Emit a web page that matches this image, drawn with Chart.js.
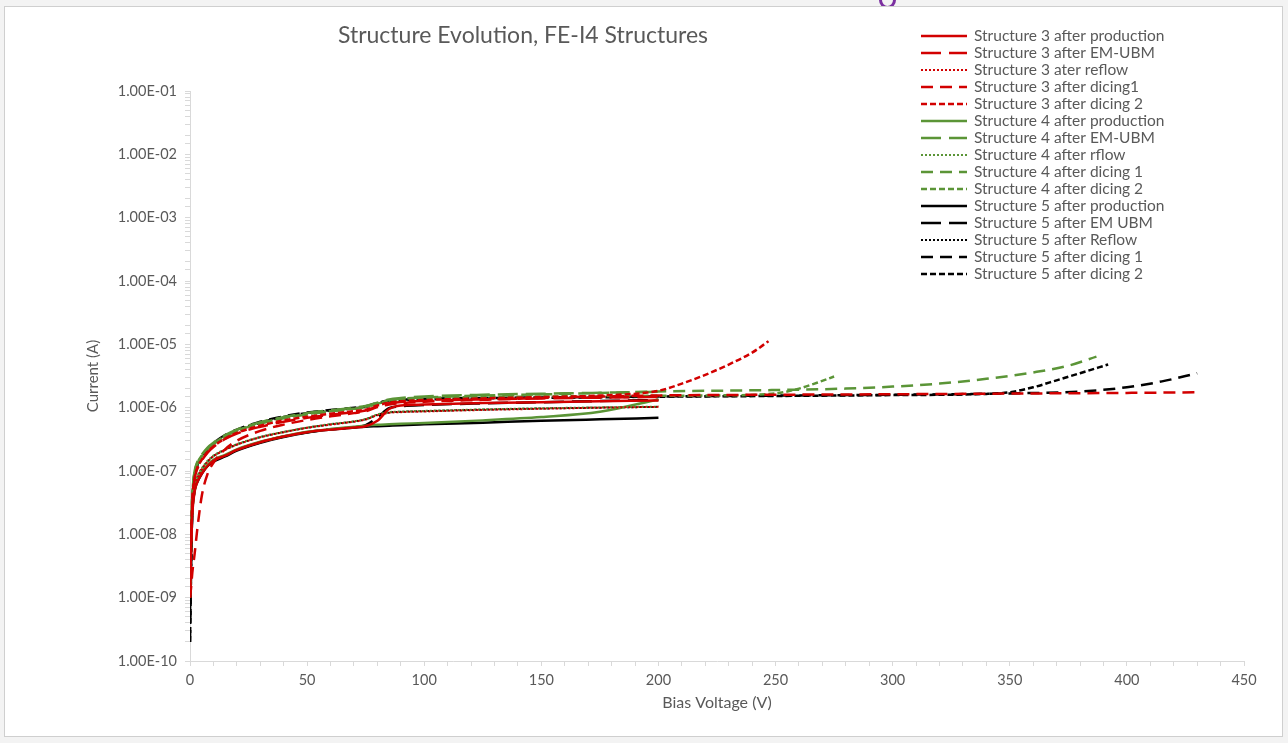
<!DOCTYPE html>
<html>
<head>
<meta charset="utf-8">
<script src="https://cdn.jsdelivr.net/npm/chart.js@4.4.1/dist/chart.umd.min.js"></script>
<style>
  html, body { margin: 0; padding: 0; background: #f3f3f3; width: 1288px; height: 743px; overflow: hidden; }
  #frame { position: absolute; left: 4px; top: 6px; width: 1277px; height: 729px; background: #fff; border: 1.5px solid #cfcfcf; }
  #logo { position: absolute; left: 879px; top: -9px; width: 11px; height: 12px; border: 3px solid #7b2fa0; border-radius: 50%; }
  #chart { position: absolute; left: 0; top: 0; }
</style>
</head>
<body>
<div id="logo"></div>
<div id="frame"></div>
<canvas id="chart" width="1288" height="743"></canvas>
<script>
// bias voltage grid shared by all runs up to 200 V
const vBias = [0, 0.5, 1, 2, 3, 5, 7.5, 10, 15, 20, 30, 40, 50, 60, 70, 75, 80, 85, 90, 100, 125, 150, 175, 200];

// structure 3
const s3Prod    = [1.5e-9, 8e-9, 2.2e-8, 4.8e-8, 6.5e-8, 9e-8, 1.2e-7, 1.45e-7, 1.75e-7, 2.15e-7, 2.85e-7, 3.5e-7, 4.1e-7, 4.5e-7, 4.85e-7, 5.1e-7, 6.2e-7, 9.5e-7, 1.08e-6, 1.12e-6, 1.18e-6, 1.22e-6, 1.26e-6, 1.3e-6];
const s3Emubm   = [1e-9, 7e-9, 3e-8, 7.5e-8, 1.05e-7, 1.45e-7, 1.95e-7, 2.4e-7, 3.2e-7, 3.9e-7, 5e-7, 6e-7, 6.9e-7, 7.7e-7, 8.5e-7, 9e-7, 1.05e-6, 1.18e-6, 1.23e-6, 1.28e-6, 1.35e-6, 1.4e-6, 1.44e-6, 1.48e-6];
const s3Reflow  = [1.2e-9, 8e-9, 2.6e-8, 5.5e-8, 7.5e-8, 1.05e-7, 1.4e-7, 1.7e-7, 2.15e-7, 2.6e-7, 3.4e-7, 4.1e-7, 4.8e-7, 5.4e-7, 6e-7, 6.5e-7, 7.6e-7, 8.3e-7, 8.5e-7, 8.7e-7, 9.2e-7, 9.6e-7, 1e-6, 1.03e-6];
const s3Dicing1 = [1e-9, 1.5e-9, 2.5e-9, 5e-9, 1.1e-8, 4e-8, 9e-8, 1.35e-7, 2.2e-7, 3e-7, 4.3e-7, 5.4e-7, 6.4e-7, 7.3e-7, 8.2e-7, 8.8e-7, 1.02e-6, 1.12e-6, 1.18e-6, 1.24e-6, 1.33e-6, 1.42e-6, 1.5e-6, 1.56e-6];
const s3Dicing1TailV = [250, 300, 350, 400, 430];
const s3Dicing1TailI = [1.6e-6, 1.63e-6, 1.67e-6, 1.71e-6, 1.75e-6];
const s3Dicing2 = [1e-9, 9e-9, 3.5e-8, 8e-8, 1.1e-7, 1.5e-7, 2e-7, 2.45e-7, 3.25e-7, 4e-7, 5.2e-7, 6.3e-7, 7.2e-7, 8e-7, 8.8e-7, 9.3e-7, 1.08e-6, 1.2e-6, 1.26e-6, 1.32e-6, 1.4e-6, 1.47e-6, 1.55e-6, 1.85e-6];
const s3Dicing2TailV = [210, 220, 230, 240, 247];
const s3Dicing2TailI = [2.4e-6, 3.3e-6, 4.8e-6, 7.4e-6, 1.12e-5];

// structure 4
const s4Prod    = [1.5e-9, 9e-9, 2.4e-8, 5e-8, 6.8e-8, 9.5e-8, 1.25e-7, 1.5e-7, 1.8e-7, 2.2e-7, 2.9e-7, 3.55e-7, 4.15e-7, 4.6e-7, 5e-7, 5.2e-7, 5.35e-7, 5.45e-7, 5.55e-7, 5.75e-7, 6.3e-7, 7.1e-7, 8.6e-7, 1.35e-6];
const s4Emubm   = [1.2e-9, 1.2e-8, 4.5e-8, 1e-7, 1.35e-7, 1.8e-7, 2.35e-7, 2.8e-7, 3.7e-7, 4.5e-7, 5.9e-7, 7.1e-7, 8.2e-7, 9.1e-7, 1e-6, 1.06e-6, 1.2e-6, 1.35e-6, 1.42e-6, 1.5e-6, 1.6e-6, 1.66e-6, 1.72e-6, 1.78e-6];
const s4Reflow  = [1.3e-9, 9e-9, 2.8e-8, 5.8e-8, 8e-8, 1.1e-7, 1.45e-7, 1.75e-7, 2.2e-7, 2.65e-7, 3.45e-7, 4.15e-7, 4.85e-7, 5.5e-7, 6.1e-7, 6.6e-7, 7.8e-7, 8.5e-7, 8.7e-7, 8.9e-7, 9.4e-7, 9.8e-7, 1.01e-6, 1.04e-6];
const s4Dicing1 = [1e-9, 1e-8, 4e-8, 9e-8, 1.25e-7, 1.7e-7, 2.2e-7, 2.65e-7, 3.5e-7, 4.3e-7, 5.6e-7, 6.8e-7, 7.8e-7, 8.7e-7, 9.6e-7, 1.02e-6, 1.15e-6, 1.3e-6, 1.38e-6, 1.45e-6, 1.55e-6, 1.62e-6, 1.7e-6, 1.8e-6];
const s4Dicing1TailV = [250, 280, 300, 320, 340, 360, 375, 387];
const s4Dicing1TailI = [1.9e-6, 2e-6, 2.15e-6, 2.4e-6, 2.85e-6, 3.6e-6, 4.6e-6, 6.4e-6];
const s4Dicing2 = [1.1e-9, 1.1e-8, 4.2e-8, 9.5e-8, 1.3e-7, 1.75e-7, 2.25e-7, 2.7e-7, 3.55e-7, 4.35e-7, 5.7e-7, 6.9e-7, 7.9e-7, 8.8e-7, 9.7e-7, 1.03e-6, 1.17e-6, 1.3e-6, 1.36e-6, 1.42e-6, 1.47e-6, 1.5e-6, 1.52e-6, 1.54e-6];
const s4Dicing2TailV = [225, 250, 260, 268, 275];
const s4Dicing2TailI = [1.56e-6, 1.68e-6, 2e-6, 2.5e-6, 3.1e-6];

// structure 5
const s5Prod    = [2e-9, 1e-8, 2.5e-8, 5e-8, 6.5e-8, 9e-8, 1.2e-7, 1.4e-7, 1.7e-7, 2.1e-7, 2.8e-7, 3.45e-7, 4.05e-7, 4.5e-7, 4.85e-7, 5e-7, 5.1e-7, 5.2e-7, 5.3e-7, 5.45e-7, 5.8e-7, 6.2e-7, 6.55e-7, 6.9e-7];
const s5Emubm   = [5e-10, 6e-9, 2.3e-8, 5e-8, 6.7e-8, 9.3e-8, 1.22e-7, 1.45e-7, 1.75e-7, 2.15e-7, 2.85e-7, 3.5e-7, 4.1e-7, 4.55e-7, 4.9e-7, 5.3e-7, 7e-7, 9.8e-7, 1.05e-6, 1.1e-6, 1.17e-6, 1.22e-6, 1.27e-6, 1.32e-6];
const s5Reflow  = [1e-9, 8.5e-9, 2.7e-8, 5.6e-8, 7.7e-8, 1.07e-7, 1.42e-7, 1.72e-7, 2.17e-7, 2.62e-7, 3.42e-7, 4.12e-7, 4.82e-7, 5.45e-7, 6.05e-7, 6.55e-7, 7.7e-7, 8.4e-7, 8.6e-7, 8.8e-7, 9.3e-7, 9.7e-7, 1e-6, 1.03e-6];
const s5Dicing1 = [2e-10, 3e-9, 2.5e-8, 9e-8, 1.2e-7, 1.65e-7, 2.25e-7, 2.75e-7, 3.7e-7, 4.5e-7, 6e-7, 7.3e-7, 8.4e-7, 9.2e-7, 1e-6, 1.05e-6, 1.2e-6, 1.3e-6, 1.34e-6, 1.38e-6, 1.42e-6, 1.45e-6, 1.48e-6, 1.5e-6];
const s5Dicing1TailV = [250, 300, 350, 380, 400, 415, 430];
const s5Dicing1TailI = [1.55e-6, 1.6e-6, 1.68e-6, 1.8e-6, 2.1e-6, 2.6e-6, 3.5e-6];
const s5Dicing2 = [2e-10, 4e-9, 3e-8, 8.5e-8, 1.15e-7, 1.6e-7, 2.15e-7, 2.65e-7, 3.55e-7, 4.35e-7, 5.8e-7, 7.1e-7, 8.2e-7, 9e-7, 9.8e-7, 1.03e-6, 1.17e-6, 1.27e-6, 1.31e-6, 1.35e-6, 1.4e-6, 1.43e-6, 1.46e-6, 1.49e-6];
const s5Dicing2TailV = [250, 300, 340, 350, 360, 370, 380, 392];
const s5Dicing2TailI = [1.53e-6, 1.58e-6, 1.65e-6, 1.75e-6, 2.1e-6, 2.7e-6, 3.5e-6, 4.8e-6];

const RED = '#d20000', GREEN = '#5b9537', BLACK = '#000000';
const SOLID = [], LONG = [20, 8], DASH = [12, 7], SHORT = [6, 3], DOT = [2, 2];
const FONT = 'Lato, "Liberation Sans Narrow", sans-serif';
const TEXT = '#595959';

function pts(v, i, tv, ti) {
  const out = v.map((x, k) => ({ x, y: i[k] }));
  if (tv) tv.forEach((x, k) => out.push({ x, y: ti[k] }));
  return out;
}

function series(label, data, color, dash) {
  return {
    label, data,
    borderColor: color,
    backgroundColor: color,
    borderDash: dash,
    borderWidth: dash === DOT ? 2 : 2.5,
    showLine: true,
    pointRadius: 0,
    fill: false,
    cubicInterpolationMode: 'monotone'
  };
}

const datasets = [
  series('Structure 3 after production', pts(vBias, s3Prod), RED, SOLID),
  series('Structure 3 after EM-UBM', pts(vBias, s3Emubm), RED, LONG),
  series('Structure 3 ater reflow', pts(vBias, s3Reflow), RED, DOT),
  series('Structure 3 after dicing1', pts(vBias, s3Dicing1, s3Dicing1TailV, s3Dicing1TailI), RED, DASH),
  series('Structure 3 after dicing 2', pts(vBias, s3Dicing2, s3Dicing2TailV, s3Dicing2TailI), RED, SHORT),
  series('Structure 4 after production', pts(vBias, s4Prod), GREEN, SOLID),
  series('Structure 4 after EM-UBM', pts(vBias, s4Emubm), GREEN, LONG),
  series('Structure 4 after rflow', pts(vBias, s4Reflow), GREEN, DOT),
  series('Structure 4 after dicing 1', pts(vBias, s4Dicing1, s4Dicing1TailV, s4Dicing1TailI), GREEN, DASH),
  series('Structure 4 after dicing 2', pts(vBias, s4Dicing2, s4Dicing2TailV, s4Dicing2TailI), GREEN, SHORT),
  series('Structure 5 after production', pts(vBias, s5Prod), BLACK, SOLID),
  series('Structure 5 after EM UBM', pts(vBias, s5Emubm), BLACK, LONG),
  series('Structure 5 after Reflow', pts(vBias, s5Reflow), BLACK, DOT),
  series('Structure 5 after dicing 1', pts(vBias, s5Dicing1, s5Dicing1TailV, s5Dicing1TailI), BLACK, DASH),
  series('Structure 5 after dicing 2', pts(vBias, s5Dicing2, s5Dicing2TailV, s5Dicing2TailI), BLACK, SHORT)
];

// title and the floating legend box, drawn the way Excel lays them out
const overlay = {
  id: 'overlay',
  afterDraw(chart) {
    const ctx = chart.ctx;
    ctx.save();
    ctx.fillStyle = TEXT;
    ctx.font = '23px ' + FONT;
    ctx.textAlign = 'center';
    ctx.textBaseline = 'middle';
    ctx.fillText('Structure Evolution, FE-I4 Structures', 523, 36);

    ctx.font = '15.5px ' + FONT;
    ctx.textAlign = 'left';
    chart.data.datasets.forEach((ds, i) => {
      const y = 36 + i * 17;
      ctx.strokeStyle = ds.borderColor;
      ctx.lineWidth = ds.borderWidth;
      ctx.setLineDash(ds.borderDash);
      ctx.beginPath();
      ctx.moveTo(921, y);
      ctx.lineTo(967, y);
      ctx.stroke();
      ctx.fillText(ds.label, 974, y);
    });
    ctx.restore();
  }
};

new Chart(document.getElementById('chart'), {
  type: 'scatter',
  data: { datasets },
  options: {
    responsive: false,
    animation: false,
    layout: { padding: { left: 80, top: 91, right: 44, bottom: 27 } },
    plugins: {
      legend: { display: false },
      tooltip: { enabled: false }
    },
    scales: {
      x: {
        type: 'linear',
        min: 0,
        max: 450,
        afterFit: s => { s.height = 55; },
        ticks: {
          stepSize: 10,
          autoSkip: false,
          maxRotation: 0,
          padding: 6,
          color: TEXT,
          font: { family: FONT, size: 14.5 },
          callback: v => (v % 50 === 0 ? String(v) : '')
        },
        grid: { drawOnChartArea: false, tickLength: 5, color: '#d9d9d9' },
        border: { color: '#d9d9d9' },
        title: { display: true, text: 'Bias Voltage (V)', color: TEXT, font: { family: FONT, size: 16 }, padding: { top: 4, bottom: 4 } }
      },
      y: {
        type: 'logarithmic',
        min: 1e-10,
        max: 1e-1,
        afterFit: s => { s.width = 110; },
        ticks: {
          autoSkip: false,
          padding: 8,
          color: TEXT,
          font: { family: FONT, size: 14.5 },
          callback: v => {
            const e = Math.log10(v);
            if (Math.abs(e - Math.round(e)) > 1e-6) return '';
            const n = Math.round(e);
            return '1.00E' + (n < 0 ? '-' : '+') + String(Math.abs(n)).padStart(2, '0');
          }
        },
        grid: { drawOnChartArea: false, tickLength: 5, color: '#d9d9d9' },
        border: { color: '#d9d9d9' },
        title: { display: true, text: 'Current (A)', color: TEXT, font: { family: FONT, size: 15 }, padding: { top: 4, bottom: 4 } }
      }
    }
  },
  plugins: [overlay]
});
</script>
</body>
</html>
